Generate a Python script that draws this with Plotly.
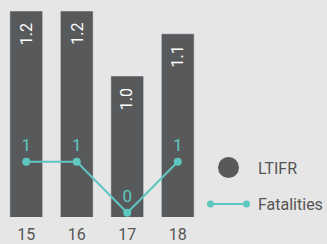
import plotly.graph_objects as go

years = ["15", "16", "17", "18"]
ltifr = [1.2, 1.2, 1.0, 1.13]
fatalities = [1, 1, 0, 1]

W, H = 327, 244
ML, MR, MT, MB = 1, 124, 11, 27
PW, PH = W - ML - MR, H - MT - MB

BAR = "#58595b"
TEAL = "#5ec7bf"
GREY = "#555555"
BG = "#e6e6e6"
FONT = "Roboto"


def px(x):
    return (x - ML) / PW


def py(y):
    return (H - MB - y) / PH


fig = go.Figure()
fig.add_trace(go.Bar(
    x=years, y=ltifr, marker_color=BAR, showlegend=False, hoverinfo="skip"
))
fig.add_trace(go.Scatter(
    x=years, y=fatalities, yaxis="y2", mode="lines+markers+text",
    line=dict(color=TEAL, width=2), marker=dict(color=TEAL, size=8),
    text=[str(v) for v in fatalities], textposition="top center",
    textfont=dict(color=TEAL, size=17, family=FONT),
    cliponaxis=False, showlegend=False,
))

for i, v in enumerate(ltifr):
    fig.add_annotation(
        x=i, y=v, xref="x", yref="y", text=f"{v:.1f}", showarrow=False,
        textangle=-90, yanchor="top", yshift=-10,
        font=dict(color="white", size=16, family=FONT),
    )

# legend drawn manually
shapes = [
    dict(type="circle", xref="paper", yref="paper",
         x0=px(218), x1=px(239), y0=py(178), y1=py(157),
         fillcolor=BAR, line=dict(width=0)),
    dict(type="line", xref="paper", yref="paper",
         x0=px(210), x1=px(247), y0=py(204), y1=py(204),
         line=dict(color=TEAL, width=2)),
    dict(type="circle", xref="paper", yref="paper",
         x0=px(207), x1=px(214), y0=py(207.5), y1=py(200.5),
         fillcolor=TEAL, line=dict(width=0)),
    dict(type="circle", xref="paper", yref="paper",
         x0=px(243), x1=px(250), y0=py(207.5), y1=py(200.5),
         fillcolor=TEAL, line=dict(width=0)),
]
for label, yy in [("LTIFR", 168), ("Fatalities", 204)]:
    fig.add_annotation(
        x=px(256), y=py(yy), xref="paper", yref="paper", text=label,
        showarrow=False, xanchor="left", yanchor="middle",
        font=dict(color=GREY, size=16, family=FONT),
    )

fig.update_layout(
    width=W, height=H, margin=dict(l=ML, r=MR, t=MT, b=MB, autoexpand=False),
    paper_bgcolor=BG, plot_bgcolor="rgba(0,0,0,0)",
    bargap=0.35, shapes=shapes,
    font=dict(family=FONT, color=GREY),
    xaxis=dict(type="category", range=[-0.5, 3.5], showgrid=False,
               zeroline=False, showline=False, ticks="", automargin=False,
               tickfont=dict(size=16, color=GREY, family=FONT),
               ticklabelstandoff=6, fixedrange=True),
    yaxis=dict(range=[0.566, 1.2], visible=False, fixedrange=True),
    yaxis2=dict(range=[-0.084, 3.955], overlaying="y", visible=False,
                fixedrange=True),
)

fig.write_html(
    "out.html",
    config={"displayModeBar": False},
    post_script="document.body.style.margin='0';document.body.style.padding='0';",
)
